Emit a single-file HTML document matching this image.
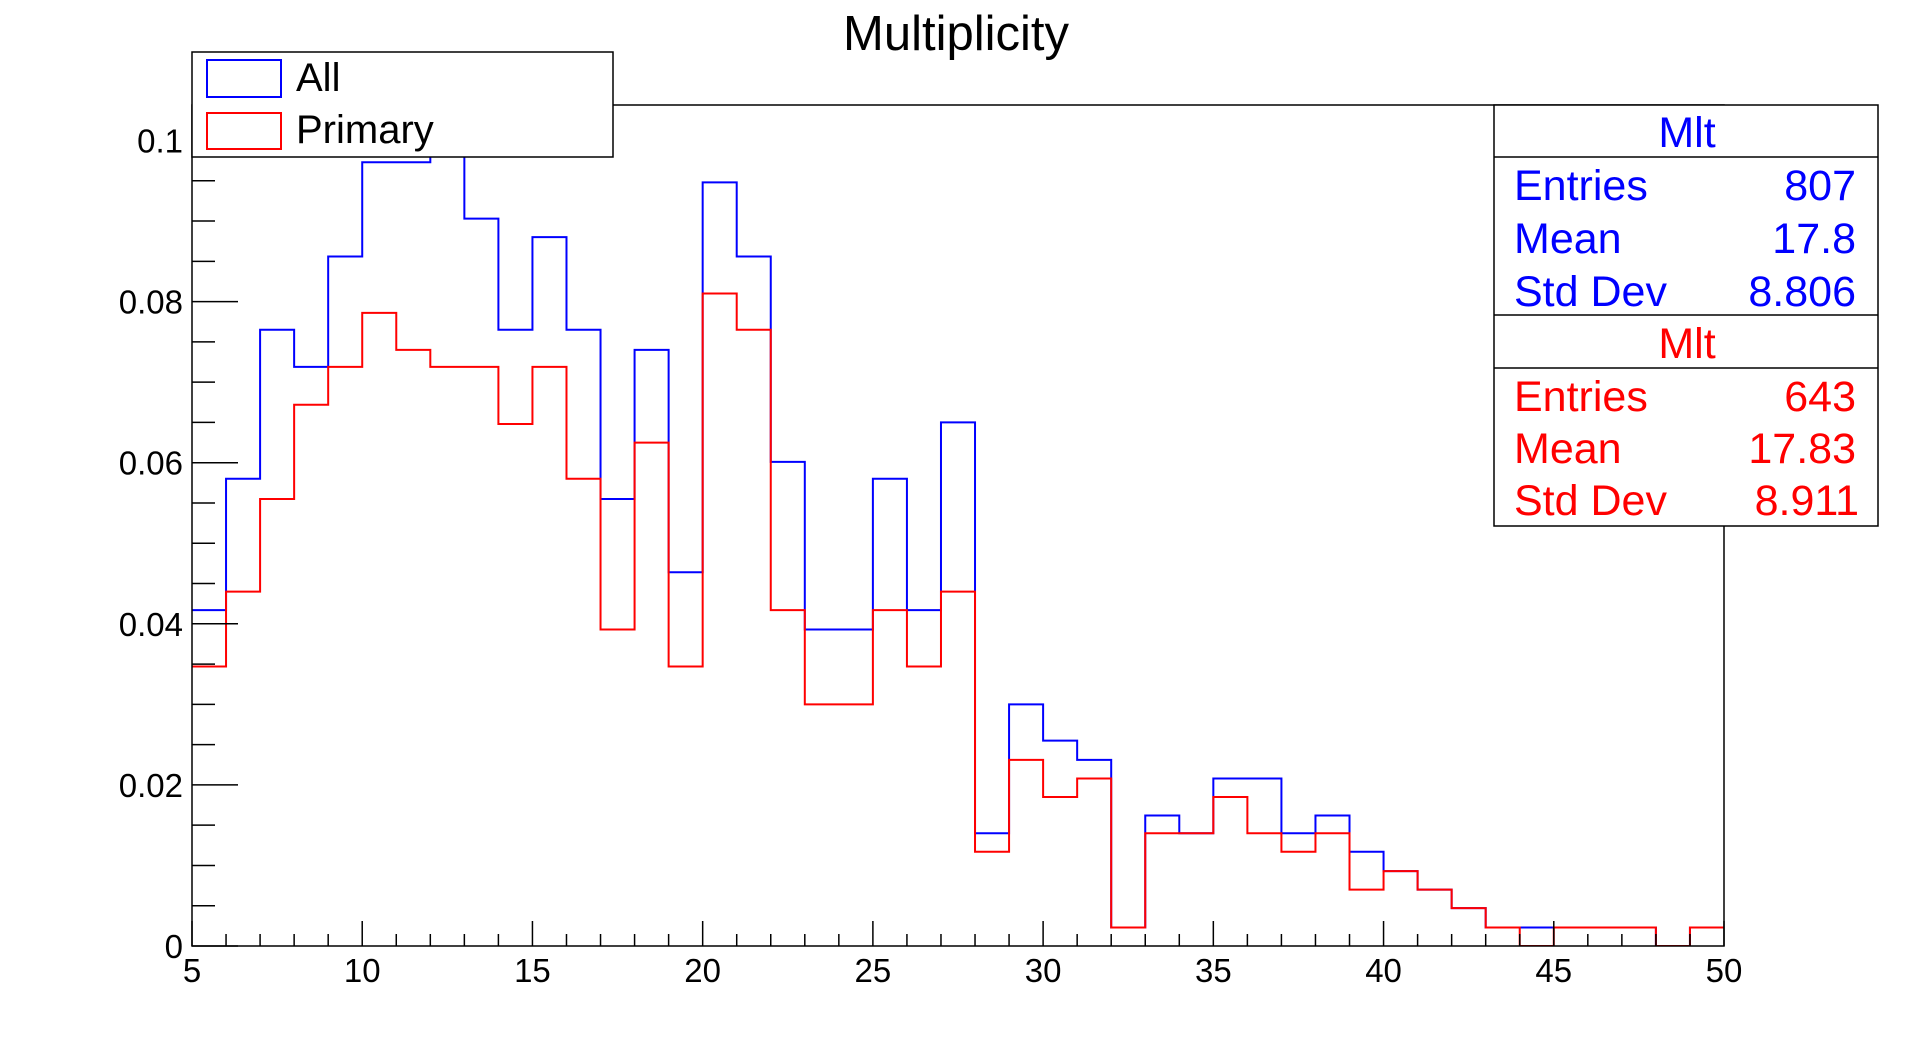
<!DOCTYPE html>
<html><head><meta charset="utf-8"><style>
html,body{margin:0;padding:0;background:#fff;}
svg{display:block;font-family:"Liberation Sans",sans-serif;}
</style></head><body>
<svg id="chart" width="1916" height="1052" viewBox="0 0 1916 1052" xmlns="http://www.w3.org/2000/svg">
<rect x="0" y="0" width="1916" height="1052" fill="#fff"/>
<text x="956" y="50" font-size="49" text-anchor="middle">Multiplicity</text>
<defs><clipPath id="frameclip"><rect x="192" y="105" width="1532" height="841"/></clipPath></defs>
<g id="hists" clip-path="url(#frameclip)"></g>
<rect x="192" y="105" width="1532" height="841" fill="none" stroke="#000" stroke-width="1.5"/>
<g id="axes"></g>
<g>
<rect x="192" y="52" width="421" height="105" fill="#fff" stroke="#000" stroke-width="1.5"/>
<rect x="207" y="60" width="74" height="37" fill="none" stroke="#0000ff" stroke-width="2"/>
<text x="296" y="91" font-size="40">All</text>
<rect x="207" y="113" width="74" height="36" fill="none" stroke="#ff0000" stroke-width="2"/>
<text x="296" y="143" font-size="40">Primary</text>
</g>
<g font-size="43">
<rect x="1494" y="105" width="384" height="421" fill="#fff" stroke="#000" stroke-width="1.5"/>
<line x1="1494" y1="157" x2="1878" y2="157" stroke="#000" stroke-width="1.5"/>
<line x1="1494" y1="315" x2="1878" y2="315" stroke="#000" stroke-width="1.5"/>
<line x1="1494" y1="368" x2="1878" y2="368" stroke="#000" stroke-width="1.5"/>
<g fill="#0000ff">
<text x="1687" y="147" text-anchor="middle">Mlt</text>
<text x="1514" y="200">Entries</text>
<text x="1856" y="200" text-anchor="end">807</text>
<text x="1514" y="253">Mean</text>
<text x="1856" y="253" text-anchor="end">17.8</text>
<text x="1514" y="306">Std Dev</text>
<text x="1856" y="306" text-anchor="end">8.806</text>
</g>
<g fill="#ff0000">
<text x="1687" y="358" text-anchor="middle">Mlt</text>
<text x="1514" y="411">Entries</text>
<text x="1856" y="411" text-anchor="end">643</text>
<text x="1514" y="463">Mean</text>
<text x="1856" y="463" text-anchor="end">17.83</text>
<text x="1514" y="515">Std Dev</text>
<text x="1859" y="515" text-anchor="end">8.911</text>
</g>
</g>
</svg>
<script>
const binStart = 5;
const binWidth = 1;
const allValues = [0.0417,0.058,0.0765,0.0719,0.0856,0.0973,0.0973,0.105,0.0903,0.0765,0.088,0.0765,0.0555,0.074,0.0464,0.0948,0.0856,0.0601,0.0393,0.0393,0.058,0.0417,0.065,0.014,0.030,0.0255,0.0231,0.0023,0.0162,0.014,0.0208,0.0208,0.014,0.0162,0.0117,0.0093,0.007,0.0047,0.0023,0.0023,0.0023,0.0023,0.0023,0,0.0023];
const primaryValues = [0.0347,0.044,0.0555,0.0672,0.0719,0.0786,0.074,0.0719,0.0719,0.0648,0.0719,0.058,0.0393,0.0625,0.0347,0.081,0.0765,0.0417,0.030,0.030,0.0417,0.0347,0.044,0.0117,0.0231,0.0185,0.0208,0.0023,0.014,0.014,0.0185,0.014,0.0117,0.014,0.007,0.0093,0.007,0.0047,0.0023,0,0.0023,0.0023,0.0023,0,0.0023];
const xTickLabels = [5,10,15,20,25,30,35,40,45,50];
const yTickLabels = [0,0.02,0.04,0.06,0.08,0.1];

const X0=192, X1=1724, XMIN=5, XMAX=50;
const YB=946, Y01=140.5;
function xs(v){return X0+(v-XMIN)*(X1-X0)/(XMAX-XMIN);}
function ys(v){return YB-v*(YB-Y01)/0.1;}
const NS="http://www.w3.org/2000/svg";
const hists=document.getElementById('hists');
const axes=document.getElementById('axes');
function histPath(vals){
  let d='M'+xs(binStart)+','+ys(vals[0]);
  for(let i=0;i<vals.length;i++){
    if(i>0) d+=' V'+ys(vals[i]);
    d+=' H'+xs(binStart+(i+1)*binWidth);
  }
  return d;
}
const pa=document.createElementNS(NS,'path');
pa.setAttribute('d',histPath(allValues));
pa.setAttribute('fill','none');pa.setAttribute('stroke','#0000ff');pa.setAttribute('stroke-width','2');


hists.appendChild(pa);
const pp=document.createElementNS(NS,'path');
pp.setAttribute('d',histPath(primaryValues));
pp.setAttribute('fill','none');pp.setAttribute('stroke','#ff0000');pp.setAttribute('stroke-width','2');


hists.appendChild(pp);

function line(x1,y1,x2,y2){
  const l=document.createElementNS(NS,'line');
  l.setAttribute('x1',x1);l.setAttribute('y1',y1);l.setAttribute('x2',x2);l.setAttribute('y2',y2);
  l.setAttribute('stroke','#000');l.setAttribute('stroke-width','1.5');
  
  
  axes.appendChild(l);
}
for(let v=XMIN; v<=XMAX; v++){
  const major=(v%5===0);
  line(xs(v),YB,xs(v),YB-(major?25:12));
}
for(let k=0;k*0.005<=0.1045;k++){
  const v=k*0.005;
  const major=(k%4===0);
  line(X0,ys(v),X0+(major?46:23),ys(v));
}
xTickLabels.forEach(v=>{
  const t=document.createElementNS(NS,'text');
  t.setAttribute('x',xs(v));t.setAttribute('y',982);
  t.setAttribute('font-size','33');t.setAttribute('text-anchor','middle');
  t.textContent=String(v);
  
  
  axes.appendChild(t);
});
yTickLabels.forEach(v=>{
  const t=document.createElementNS(NS,'text');
  t.setAttribute('x',183);t.setAttribute('y',ys(v)+12);
  t.setAttribute('font-size','33');t.setAttribute('text-anchor','end');
  t.textContent=String(v);
  
  
  axes.appendChild(t);
});
</script>
</body></html>
